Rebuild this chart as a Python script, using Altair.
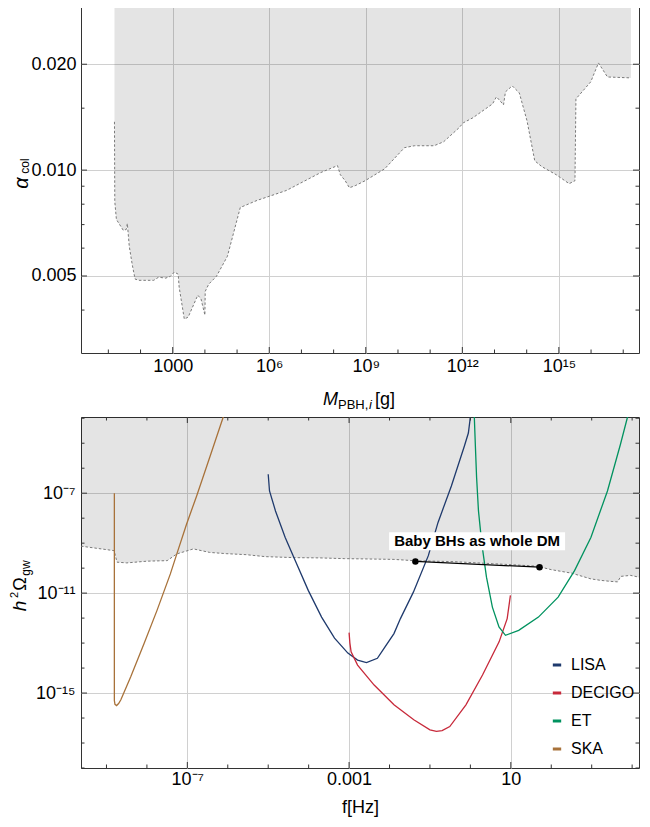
import altair as alt
import pandas as pd

# ---------------- data ----------------
# Top panel: boundary of excluded region, log10(M_PBH,i / g) and alpha_col
top_logM = [1.19, 1.20, 1.25, 1.465, 1.557, 1.59, 1.65, 1.74, 1.83, 1.95, 2.41, 2.56,
            2.78, 2.93, 3.05, 3.17, 3.20, 3.36, 3.48, 3.78, 3.88, 4.00, 4.01, 4.12,
            4.36, 4.70, 5.10, 5.62, 6.53, 7.60, 8.12, 8.21, 8.36, 8.49, 8.67, 8.98,
            9.59, 10.20, 10.51, 11.12, 11.42, 11.90, 12.03, 12.33, 12.94, 13.06,
            13.28, 13.34, 13.55, 13.77, 14.01, 14.25, 14.47, 14.92, 15.32, 15.50,
            15.53, 15.99, 16.23, 16.51, 17.24]
top_alpha = [0.01372, 0.00814, 0.00724, 0.00674, 0.00678, 0.00705, 0.00607, 0.0054,
             0.0049, 0.00486, 0.00486, 0.00496, 0.00493, 0.00499, 0.00513, 0.00506,
             0.00465, 0.00377, 0.00382, 0.00441, 0.0043, 0.00387, 0.00452, 0.00474,
             0.00499, 0.00569, 0.00783, 0.0082, 0.00875, 0.00984, 0.0103, 0.0097,
             0.00933, 0.00891, 0.00903, 0.00933, 0.01009, 0.01158, 0.01173, 0.01173,
             0.01204, 0.0132, 0.01363, 0.01409, 0.01543, 0.01616, 0.01533, 0.01669,
             0.01736, 0.01658, 0.01381, 0.01063, 0.01023, 0.0097, 0.00915, 0.00933,
             0.01594, 0.01782, 0.02017, 0.0184, 0.01829]

# Bottom panel: boundary of excluded region, log10(f/Hz), log10(h^2 Omega_gw)
bnd_logf = [-9.63, -8.81, -8.74, -8.50, -7.99, -7.50, -7.26, -6.85, -6.45, -6.04,
            -5.55, -5.07, -4.33, -3.72, -3.11, -2.63, -1.89, -1.40, -0.43, 0.54,
            1.64, 2.00, 2.50, 2.98, 3.23, 3.47, 3.64, 3.72, 3.96, 4.17]
bnd_logO = [-9.12, -9.30, -9.76, -9.79, -9.72, -9.70, -9.43, -9.23, -9.37, -9.42,
            -9.46, -9.54, -9.58, -9.59, -9.62, -9.63, -9.65, -9.70, -9.74, -9.82,
            -9.92, -10.06, -10.20, -10.43, -10.49, -10.53, -10.55, -10.33, -10.29, -10.36]

lisa_logf = [-5.0, -4.968, -4.82, -4.58, -4.33, -4.01, -3.68, -3.36, -3.03, -2.79,
             -2.57, -2.30, -2.14, -1.89, -1.73, -1.41, -1.04, -0.80, -0.47, -0.15,
             -0.05, 0.0, 0.02]
lisa_logO = [-6.24, -6.91, -7.71, -8.77, -9.70, -10.89, -11.96, -12.80, -13.40, -13.68,
             -13.78, -13.61, -13.22, -12.62, -12.02, -10.96, -9.50, -8.17, -6.71, -5.12,
             -4.59, -3.95, -3.5]

decigo_logf = [-3.0, -2.98, -2.95, -2.79, -2.38, -1.89, -1.40, -1.0, -0.84, -0.70,
               -0.51, -0.11, 0.30, 0.71, 0.91, 0.99]
decigo_logO = [-12.58, -13.0, -13.35, -13.88, -14.68, -15.47, -16.07, -16.47, -16.53,
               -16.50, -16.34, -15.47, -14.28, -12.95, -12.02, -11.09]

et_logf = [0.09, 0.098, 0.122, 0.154, 0.20, 0.283, 0.398, 0.544, 0.707, 0.868, 1.195,
           1.683, 2.17, 2.576, 2.98, 3.39, 3.71, 3.88, 3.92]
et_logO = [-3.7, -3.99, -5.05, -6.38, -7.71, -9.03, -10.36, -11.56, -12.35, -12.69,
           -12.49, -11.96, -11.16, -10.10, -8.77, -6.91, -5.05, -3.99, -3.7]

ska_logf = [-8.805, -8.805, -8.79, -8.75, -8.70, -8.644, -8.40, -8.07, -7.75, -7.42,
            -7.26, -7.02, -6.77, -6.45, -6.12, -6.05]
ska_logO = [-7.0, -15.30, -15.45, -15.50, -15.42, -15.27, -14.35, -13.02, -11.69,
            -10.23, -9.43, -8.24, -7.11, -5.58, -3.99, -3.65]

detectors = ["LISA", "DECIGO", "ET", "SKA"]
det_colors = ["#1f3a6d", "#c7293a", "#00925f", "#a8723a"]

# annotation "Baby BHs as whole DM"
ann_logf = [-1.36, 1.71]
ann_logO = [-9.73, -9.96]
ann_text = "Baby BHs as whole DM"
ann_text_logf = 0.166
ann_text_logO = -8.92

# ticks
top_x_major = [3, 6, 9, 12, 15]
top_x_labels = ["1000", "10⁶", "10⁹", "10¹²", "10¹⁵"]
top_x_minor = [1, 2, 4, 5, 7, 8, 10, 11, 13, 14, 16, 17]
top_y_major = [0.005, 0.010, 0.020]
top_y_minor = [0.004, 0.006, 0.007, 0.008, 0.009, 0.015]

bot_x_major = [-7, -3, 1]
bot_x_labels = ["10⁻⁷", "0.001", "10"]
bot_x_minor = [-9, -8, -6, -5, -4, -2, -1, 0, 2, 3, 4]
bot_y_major = [-15, -11, -7]
bot_y_labels = ["10⁻¹⁵", "10⁻¹¹", "10⁻⁷"]
bot_y_minor = [-18, -17, -16, -14, -13, -12, -10, -9, -8, -6, -5, -4]

# ---------------- layout constants ----------------
W = 558
H = 351
FONT = "Liberation Sans"
FRAME = "#333333"


def label_expr(exps, labels):
    expr = "''"
    for e, l in reversed(list(zip(exps, labels))):
        expr = f"round(log(datum.value)/LN10) == {e} ? '{l}' : " + expr
    return expr


xs_top = alt.Scale(type="log", domain=[10 ** 0.15, 10 ** 17.49], nice=False)
ys_top = alt.Scale(type="log", domain=[10 ** -2.52, 10 ** -1.522], nice=False)
xs_bot = alt.Scale(type="log", domain=[10 ** -9.63, 10 ** 4.17], nice=False)
ys_bot = alt.Scale(type="log", domain=[1e-18, 10 ** -3.95], nice=False)

ax_top_x = alt.Axis(values=[10 ** e for e in top_x_major],
                    labelExpr=label_expr(top_x_major, top_x_labels),
                    title=None, labelPadding=4, labelFlush=False)
ax_top_y = alt.Axis(values=top_y_major, format=".3f", title=None, labelPadding=5)
ax_bot_x = alt.Axis(values=[10 ** e for e in bot_x_major],
                    labelExpr=label_expr(bot_x_major, bot_x_labels),
                    title="f[Hz]", labelPadding=2, titlePadding=10, labelFlush=False)
ax_bot_y = alt.Axis(values=[10 ** e for e in bot_y_major],
                    labelExpr=label_expr(bot_y_major, bot_y_labels),
                    title=None, labelPadding=6)


def tick_layers(xscale, yscale, xaxis, yaxis, xmaj, xmin, ymaj, ymin):
    layers = []
    for vals, ln in ((xmaj, 6), (xmin, 3.5)):
        df = pd.DataFrame({"v": vals})
        base = alt.Chart(df).mark_rule(color=FRAME, strokeWidth=1)
        layers.append(base.encode(x=alt.X("v:Q", scale=xscale, axis=xaxis),
                                  y=alt.value(H), y2=alt.value(H - ln)))
        layers.append(base.encode(x=alt.X("v:Q", scale=xscale, axis=xaxis),
                                  y=alt.value(0), y2=alt.value(ln)))
    for vals, ln in ((ymaj, 6), (ymin, 3.5)):
        df = pd.DataFrame({"v": vals})
        base = alt.Chart(df).mark_rule(color=FRAME, strokeWidth=1)
        layers.append(base.encode(y=alt.Y("v:Q", scale=yscale, axis=yaxis),
                                  x=alt.value(0), x2=alt.value(ln)))
        layers.append(base.encode(y=alt.Y("v:Q", scale=yscale, axis=yaxis),
                                  x=alt.value(W), x2=alt.value(W - ln)))
    return layers


def txt(s, x, y, size, italic=False, angle=0, align="center", baseline="middle"):
    props = dict(font=FONT, fontSize=size, color="black", align=align,
                 baseline=baseline, angle=angle)
    if italic:
        props["fontStyle"] = "italic"
    return alt.Chart(pd.DataFrame({"t": [s]})).mark_text(**props).encode(
        text="t:N", x=alt.value(x), y=alt.value(y))


# ---------------- top panel ----------------
top_df = pd.DataFrame({"M": [10 ** v for v in top_logM], "a": top_alpha,
                       "top": [ys_top.domain[1]] * len(top_alpha)})

tx = alt.X("M:Q", scale=xs_top, axis=ax_top_x)
ty = alt.Y("a:Q", scale=ys_top, axis=ax_top_y)

top_area = alt.Chart(top_df).mark_area(fill="#000000", fillOpacity=0.105,
                                       strokeWidth=0).encode(x=tx, y=ty, y2="top:Q")
top_line = alt.Chart(top_df).mark_line(color="#7a7a7a", strokeWidth=1,
                                       strokeDash=[2.5, 2]).encode(x=tx, y=ty)

top_titles = [
    txt("α", -59, 181, 20, italic=True, angle=270),
    txt("col", -56, 164, 12, angle=270),
    txt("M", 242, H + 52, 18, italic=True, align="left", baseline="alphabetic"),
    txt("PBH,", 257, H + 56, 13, align="left", baseline="alphabetic"),
    txt("i", 288, H + 56, 13, italic=True, align="left", baseline="alphabetic"),
    txt("[g]", 294, H + 52, 18, align="left", baseline="alphabetic"),
]

top = alt.layer(
    top_area, top_line,
    *tick_layers(xs_top, ys_top, ax_top_x, ax_top_y,
                 [10 ** e for e in top_x_major], [10 ** e for e in top_x_minor],
                 top_y_major, top_y_minor),
    *top_titles,
).properties(width=W, height=H)

# ---------------- bottom panel ----------------
bnd_df = pd.DataFrame({"f": [10 ** v for v in bnd_logf], "O": [10 ** v for v in bnd_logO],
                       "top": [ys_bot.domain[1]] * len(bnd_logf)})

rows = []
for name, fs, os_ in (("LISA", lisa_logf, lisa_logO), ("DECIGO", decigo_logf, decigo_logO),
                      ("ET", et_logf, et_logO), ("SKA", ska_logf, ska_logO)):
    for i, (fv, ov) in enumerate(zip(fs, os_)):
        rows.append({"det": name, "f": 10 ** fv, "O": 10 ** ov, "i": i})
curves_df = pd.DataFrame(rows)

bx = alt.X("f:Q", scale=xs_bot, axis=ax_bot_x)
by = alt.Y("O:Q", scale=ys_bot, axis=ax_bot_y)

bot_area = alt.Chart(bnd_df).mark_area(fill="#000000", fillOpacity=0.105,
                                       strokeWidth=0).encode(x=bx, y=by, y2="top:Q")
bot_line = alt.Chart(bnd_df).mark_line(color="#7a7a7a", strokeWidth=1,
                                       strokeDash=[2.5, 2]).encode(x=bx, y=by)
curves = alt.Chart(curves_df).mark_line(strokeWidth=1.3, clip=True).encode(
    x=bx, y=by,
    order="i:Q",
    color=alt.Color("det:N",
                    scale=alt.Scale(domain=detectors, range=det_colors),
                    sort=detectors,
                    legend=alt.Legend(orient="none", legendX=468, legendY=655,
                                      title=None, symbolType="stroke",
                                      symbolStrokeWidth=3, symbolSize=70,
                                      labelFont=FONT, labelFontSize=16,
                                      labelColor="black", rowPadding=12,
                                      labelOffset=6, padding=0)),
)

ann_df = pd.DataFrame({"f": [10 ** v for v in ann_logf], "O": [10 ** v for v in ann_logO]})
ann_line = alt.Chart(ann_df).mark_line(color="black", strokeWidth=1.2).encode(x=bx, y=by)
ann_pts = alt.Chart(ann_df).mark_point(color="black", filled=True, size=42,
                                       opacity=1).encode(x=bx, y=by)
lab_df = pd.DataFrame({"f": [10 ** ann_text_logf], "O": [10 ** ann_text_logO],
                       "t": [ann_text]})
ann_box = alt.Chart(lab_df).mark_rect(color="white", width=176, height=18,
                                      opacity=1).encode(x=bx, y=by)
ann_txt = alt.Chart(lab_df).mark_text(font=FONT, fontSize=15, fontWeight="bold",
                                      color="black", align="center",
                                      baseline="middle").encode(x=bx, y=by, text="t:N")

bot_titles = [
    txt("h", -61, 189, 19, italic=True, angle=270),
    txt("2", -66, 178, 11, angle=270),
    txt("Ω", -60, 167, 18, angle=270),
    txt("gw", -55, 151, 12, angle=270),
]

bottom = alt.layer(
    bot_area, bot_line, curves, ann_line, ann_pts, ann_box, ann_txt,
    *tick_layers(xs_bot, ys_bot, ax_bot_x, ax_bot_y,
                 [10 ** e for e in bot_x_major], [10 ** e for e in bot_x_minor],
                 [10 ** e for e in bot_y_major], [10 ** e for e in bot_y_minor]),
    *bot_titles,
).properties(width=W, height=H)

chart = alt.vconcat(top, bottom, spacing=3).properties(
    padding={"left": 0, "top": -7, "right": 0, "bottom": 0},
).configure_view(stroke=FRAME, strokeWidth=1).configure_axis(
    domain=False, ticks=False, grid=True, gridColor="#d0d0d0", gridWidth=1,
    labelFont=FONT, labelFontSize=18, labelColor="black",
    titleFont=FONT, titleFontSize=18, titleFontWeight="normal", titleColor="black",
)

chart.save("out.html", embed_options={"renderer": "svg", "actions": False})
